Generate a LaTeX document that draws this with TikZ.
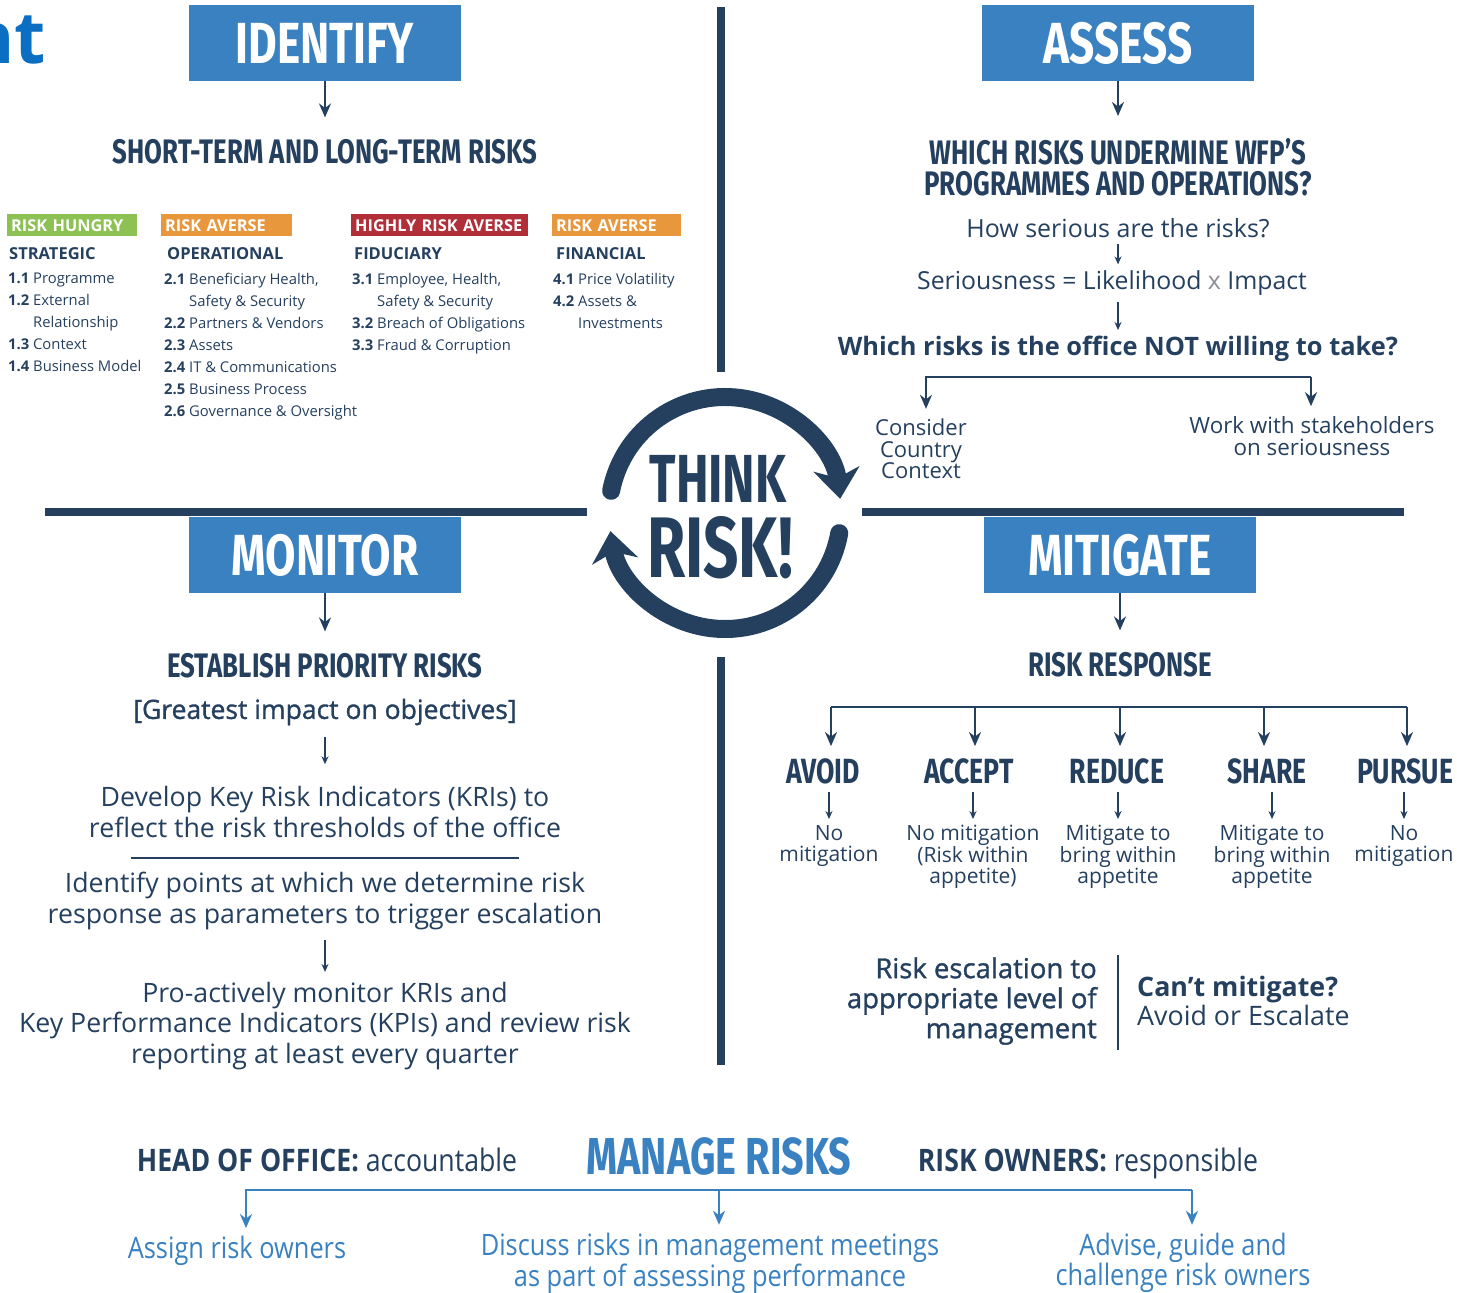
\documentclass[tikz,border=0pt]{standalone}
\usepackage{fontspec}
\setmainfont{Open Sans}
\newfontfamily\dispfont{Fira Sans}[FakeStretch=0.76]
\newfontfamily\logofont{Fira Sans}[FakeStretch=0.72]
\newfontfamily\condfont{Open Sans}[FakeStretch=0.86]
\newfontfamily\semifont{Open Sans}[FakeBold=1.2]
\usetikzlibrary{arrows.meta,positioning,calc}

\definecolor{navy}{HTML}{25405F}
\definecolor{boxblue}{HTML}{3A81C1}
\definecolor{titleblue}{HTML}{0A6FC2}
\definecolor{hungry}{HTML}{8DC153}
\definecolor{averse}{HTML}{E8973C}
\definecolor{highly}{HTML}{B12F38}
\definecolor{xgray}{HTML}{8A8F95}

\newcommand\itemno[1]{\textbf{#1}}
\newcommand\indentno{\phantom{\textbf{0.0} }}

\tikzset{
  stage/.style={fill=boxblue, text=white, minimum width=272pt, minimum height=76pt, inner sep=0pt,
    font=\dispfont\bfseries\fontsize{58}{58}\selectfont},
  headline/.style={text=navy, inner sep=0pt, align=center,
    font=\dispfont\bfseries\fontsize{34}{31}\selectfont},
  body/.style={text=navy, inner sep=0pt, align=center, font=\fontsize{26.7}{30.5}\selectfont},
  tag/.style={text=white, anchor=north west, inner xsep=4pt, inner ysep=0pt, minimum height=22pt,
    align=left, font=\bfseries\fontsize{16.3}{16.3}\selectfont},
  colhead/.style={text=navy, anchor=west, inner sep=0pt, font=\bfseries\fontsize{16.5}{16.5}\selectfont},
  list/.style={text=navy, anchor=north west, inner sep=0pt, align=left, font=\fontsize{14.8}{22}\selectfont},
  response/.style={text=navy, inner sep=0pt, font=\dispfont\bfseries\fontsize{35}{35}\selectfont},
  outcome/.style={text=navy, inner sep=0pt, align=center, font=\fontsize{21}{21.5}\selectfont},
  manage/.style={text=boxblue, inner sep=0pt, align=center, font=\condfont\fontsize{29.5}{29}\selectfont},
  role/.style={text=navy, inner sep=0pt, anchor=base, font=\condfont\fontsize{31}{31}\selectfont},
  logo/.style={text=navy, inner sep=0pt, text depth=0pt},
  down/.style={draw=navy, line width=2.2pt, -{Stealth[length=14pt,width=12pt]}},
  small/.style={draw=navy, line width=1.5pt, -{Stealth[length=8pt,width=7pt]}},
  bluedown/.style={draw=boxblue, line width=2.4pt, -{Stealth[length=14pt,width=12pt]}},
  divider/.style={draw=navy, line width=8pt},
  ring/.style={draw=navy, line width=18pt, line cap=round, -{Stealth[length=30pt,width=46pt,inset=9pt]}},
}

\begin{document}
\begin{tikzpicture}[x=1pt, y=-1pt]
		%%%%% START %%%%%
		\useasboundingbox (0,0) rectangle (1457,1293);
		
		\node[text=titleblue, anchor=base east, inner sep=0pt, font=\bfseries\fontsize{72}{72}\selectfont] (title) at (46,63) {nt};
		
		% dividers
		\draw[divider] (721,7) -- (721,372);
		\draw[divider] (721,657) -- (721,1065);
		\draw[divider] (45,512) -- (587,512);
		\draw[divider] (862,512) -- (1404,512);
		
		% think risk
		\coordinate (ctr) at (725,513);
		\draw[ring] ([shift={(169:116pt)}]ctr) arc[start angle=169, end angle=7, radius=116pt];
		\draw[ring] ([shift={(-10:116pt)}]ctr) arc[start angle=-10, end angle=-171, radius=116pt];
		\node[logo, anchor=base, font=\logofont\bfseries\fontsize{68}{68}\selectfont] (think) at (718,502) {THINK};
		\node[logo, anchor=base, font=\logofont\bfseries\fontsize{86}{86}\selectfont] (riskx) at (720,577) {RISK!};
		
		%%%%% IDENTIFY %%%%%
		\node[stage] (identify) at (325,43) {IDENTIFY};
		\node[headline] (terms) at (325,152) {SHORT-TERM AND LONG-TERM RISKS};
		\draw[down, shorten >=22pt] (identify) -- (terms);
		
		\node[tag, fill=hungry, minimum width=130pt, text width=122pt] (tag1) at (7,214) {RISK HUNGRY};
		\node[tag, fill=averse, minimum width=131pt, text width=123pt] (tag2) at (161,214) {RISK AVERSE};
		\node[tag, fill=highly, minimum width=177pt, text width=169pt] (tag3) at (351,214) {HIGHLY RISK AVERSE};
		\node[tag, fill=averse, minimum width=129pt, text width=121pt] (tag4) at (552,214) {RISK AVERSE};
		
		\node[colhead] (strategic) at (9,254) {STRATEGIC};
		\node[colhead] (operational) at (167,254) {OPERATIONAL};
		\node[colhead] (fiduciary) at (354,254) {FIDUCIARY};
		\node[colhead] (financial) at (556,254) {FINANCIAL};
		
		\node[list] (list1) at (8,273) {\itemno{1.1} Programme\\ \itemno{1.2} External\\ \indentno Relationship\\
			\itemno{1.3} Context\\ \itemno{1.4} Business Model};
		\node[list] (list2) at (164,273) {\itemno{2.1} Beneficiary Health,\\ \indentno Safety \& Security\\
			\itemno{2.2} Partners \& Vendors\\ \itemno{2.3} Assets\\ \itemno{2.4} IT \& Communications\\
			\itemno{2.5} Business Process\\ \itemno{2.6} Governance \& Oversight};
		\node[list] (list3) at (352,273) {\itemno{3.1} Employee, Health,\\ \indentno Safety \& Security\\
			\itemno{3.2} Breach of Obligations\\ \itemno{3.3} Fraud \& Corruption};
		\node[list] (list4) at (553,273) {\itemno{4.1} Price Volatility\\ \itemno{4.2} Assets \&\\ \indentno Investments};
		
		%%%%% ASSESS %%%%%
		\node[stage] (assess) at (1118,43) {ASSESS};
		\node[headline] (undermine) at (1118,167) {WHICH RISKS UNDERMINE WFP’S\\PROGRAMMES AND OPERATIONS?};
		\draw[down, shorten >=22pt] (assess) -- (undermine);
		
		\node[body, font=\fontsize{25}{25}\selectfont] (serious) at (1118,228) {How serious are the risks?};
		\node[body, font=\fontsize{24.8}{25}\selectfont] (formula) at (1112,283) {Seriousness = Likelihood {\color{xgray}x} Impact};
		\node[body, font=\bfseries\fontsize{25.4}{25}\selectfont] (notwilling) at (1118,349) {Which risks is the office NOT willing to take?};
		\draw[small, shorten <=6pt, shorten >=6pt] (serious) -- (serious |- formula.north);
		\draw[small, shorten <=6pt, shorten >=6pt] (formula.south -| serious) -- (serious |- notwilling.north);
		
		\coordinate (brL) at (926,377);
		\coordinate (brR) at (1311,377);
		\node[outcome, font=\fontsize{22}{21.5}\selectfont] (consider) at (921,449) {Consider\\Country\\Context};
		\node[outcome, font=\fontsize{22.4}{22}\selectfont] (stake) at (1312,436) {Work with stakeholders\\on seriousness};
		\draw[down, shorten >=10pt] (brR) -- (brL) -- (brL |- consider.north);
		\draw[down, shorten >=10pt] (brR) -- (brR |- stake.north);
		
		%%%%% MONITOR %%%%%
		\node[stage] (monitor) at (325,555) {MONITOR};
		\node[headline] (priority) at (325,666) {ESTABLISH PRIORITY RISKS};
		\draw[down, shorten >=22pt] (monitor) -- (priority);
		
		\node[body, font=\semifont\fontsize{26.5}{26}\selectfont] (greatest) at (325,712) {[Greatest impact on objectives]};
		\node[body] (kri) at (325,812) {Develop Key Risk Indicators (KRIs) to\\reflect the risk thresholds of the office};
		\draw[small, shorten <=12pt, shorten >=22pt] (greatest) -- (greatest |- kri.north);
		\draw[navy, line width=2pt] (131,858) -- (519,858);
		\node[body] (points) at (325,901) {Identify points at which we determine risk\\response as parameters to trigger escalation};
		\node[body] (proactive) at (325,1026) {Pro-actively monitor KRIs and\\Key Performance Indicators (KPIs) and review risk\\reporting at least every quarter};
		\draw[small, shorten <=10pt, shorten >=10pt] (points) -- (points |- proactive.north);
		
		%%%%% MITIGATE %%%%%
		\node[stage] (mitigate) at (1120,555) {MITIGATE};
		\node[headline] (response) at (1120,665) {RISK RESPONSE};
		\draw[down, shorten >=22pt] (mitigate) -- (response);
		
		\coordinate (r1) at (831,707);
		\coordinate (r2) at (975,707);
		\coordinate (r3) at (1120,707);
		\coordinate (r4) at (1264,707);
		\coordinate (r5) at (1407,707);
		\draw[navy, line width=2.2pt] (r1) -- (r5);
		\node[response] (avoid) at (823,771) {AVOID};
		\node[response] (accept) at (969,771) {ACCEPT};
		\node[response] (reduce) at (1117,771) {REDUCE};
		\node[response] (share) at (1267,771) {SHARE};
		\node[response] (pursue) at (1405,771) {PURSUE};
		\draw[down, shorten >=12pt] (r1) -- (r1 |- avoid.north);
		\draw[down, shorten >=12pt] (r2) -- (r2 |- accept.north);
		\draw[down, shorten >=12pt] (r3) -- (r3 |- reduce.north);
		\draw[down, shorten >=12pt] (r4) -- (r4 |- share.north);
		\draw[down, shorten >=12pt] (r5) -- (r5 |- pursue.north);
		
		\node[outcome] (out1) at (829,846) {No\\mitigation};
		\node[outcome] (out2) at (973,857) {No mitigation\\(Risk within\\appetite)};
		\node[outcome] (out3) at (1118,857) {Mitigate to\\bring within\\appetite};
		\node[outcome] (out4) at (1272,857) {Mitigate to\\bring within\\appetite};
		\node[outcome] (out5) at (1404,846) {No\\mitigation};
		\draw[small, shorten <=8pt, shorten >=6pt] (avoid.south -| out1) -- (out1.north);
		\draw[small, shorten <=8pt, shorten >=6pt] (accept.south -| out2) -- (out2.north);
		\draw[small, shorten <=8pt, shorten >=6pt] (reduce.south -| out3) -- (out3.north);
		\draw[small, shorten <=8pt, shorten >=6pt] (share.south -| out4) -- (out4.north);
		\draw[small, shorten <=8pt, shorten >=6pt] (pursue.south -| out5) -- (out5.north);
		
		\node[body, align=right, anchor=east, font=\semifont\fontsize{27.5}{30}\selectfont] (escalation) at (1097,1001) {Risk escalation to\\appropriate level of\\management};
		\draw[navy, line width=2pt] (1118,955) -- (1118,1050);
		\node[body, align=left, anchor=west, font=\fontsize{26.8}{29}\selectfont] (cant) at (1137,1001) {\textbf{Can’t mitigate?}\\Avoid or Escalate};
		
		%%%%% MANAGE %%%%%
		\node[role] (head) at (327,1171) {\textbf{HEAD OF OFFICE:} accountable};
		\node[text=boxblue, inner sep=0pt, font=\dispfont\bfseries\fontsize{52}{52}\selectfont] (managerisks) at (719,1156) {MANAGE RISKS};
		\node[role] (owners) at (1088,1171) {\textbf{RISK OWNERS:} responsible};
		
		\coordinate (m1) at (246,1190);
		\coordinate (m2) at (719,1190);
		\coordinate (m3) at (1192,1190);
		\node[manage] (assign) at (237,1251) {Assign risk owners};
		\node[manage] (discuss) at (710,1263) {Discuss risks in management meetings\\as part of assessing performance};
		\node[manage] (advise) at (1183,1263) {Advise, guide and\\challenge risk owners};
		\draw[bluedown, shorten >=8pt] (m3) -- (m1) -- (m1 |- assign.north);
		\draw[bluedown, shorten >=8pt] (m2) -- (m2 |- discuss.north);
		\draw[bluedown, shorten >=8pt] (m3) -- (m3 |- advise.north);
		
		%%%%% END %%%%%
	\end{tikzpicture}
\end{document}
